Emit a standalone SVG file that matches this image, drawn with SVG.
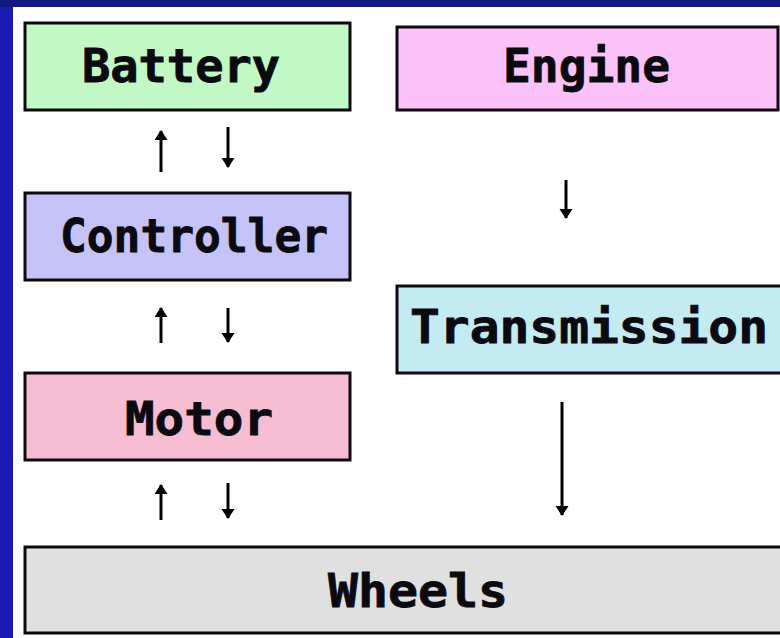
<svg xmlns="http://www.w3.org/2000/svg" width="780" height="638" viewBox="0 0 780 638">
<style>
.box{stroke:#100810;stroke-width:3}
.lbl{font-family:"DejaVu Sans Mono","Liberation Mono",monospace;font-weight:bold;font-size:46px;fill:#0a0a10;stroke:#0a0a10;stroke-width:0.8}
.arr{stroke:#000;stroke-width:3;fill:none}
</style>
<defs>
<marker id="ah" markerUnits="userSpaceOnUse" markerWidth="14" markerHeight="14" refX="9" refY="6.5" orient="auto">
<path d="M0,0 L10,6.5 L0,13 Z" fill="#000"/>
</marker>
</defs>
<rect x="0" y="0" width="780" height="638" fill="#ffffff"/>
<rect x="0" y="0" width="13" height="638" fill="#1a1ab4"/>
<rect x="0" y="0" width="780" height="7" fill="#121a80"/>
<g id="battery">
<rect class="box" x="25" y="23" width="325" height="87" fill="#c2f8c4"/>
<text class="lbl" x="82" y="82" textLength="198" lengthAdjust="spacingAndGlyphs">Battery</text>
</g>
<g id="controller">
<rect class="box" x="25" y="193" width="325" height="87" fill="#c4c2f6"/>
<text class="lbl" x="60" y="252" textLength="268" lengthAdjust="spacingAndGlyphs">Controller</text>
</g>
<g id="motor">
<rect class="box" x="25" y="373" width="325" height="87" fill="#f6bcd2"/>
<text class="lbl" x="125" y="435" textLength="148" lengthAdjust="spacingAndGlyphs">Motor</text>
</g>
<g id="engine">
<rect class="box" x="397" y="27" width="381" height="83" fill="#fbc2f8"/>
<text class="lbl" x="503" y="82" textLength="167" lengthAdjust="spacingAndGlyphs">Engine</text>
</g>
<g id="transmission">
<rect class="box" x="397" y="286" width="386" height="87" fill="#c4eaf2"/>
<text class="lbl" x="410" y="343" textLength="358" lengthAdjust="spacingAndGlyphs">Transmission</text>
</g>
<g id="wheels">
<rect class="box" x="25" y="547" width="760" height="86" fill="#e0e0e0"/>
<text class="lbl" x="328" y="607" textLength="180" lengthAdjust="spacingAndGlyphs">Wheels</text>
</g>
<g id="connectors">
<line class="arr" x1="161" y1="172" x2="161" y2="131" marker-end="url(#ah)"/>
<line class="arr" x1="228" y1="127" x2="228" y2="167" marker-end="url(#ah)"/>
<line class="arr" x1="161" y1="343" x2="161" y2="308" marker-end="url(#ah)"/>
<line class="arr" x1="228" y1="308" x2="228" y2="342" marker-end="url(#ah)"/>
<line class="arr" x1="161" y1="520" x2="161" y2="485" marker-end="url(#ah)"/>
<line class="arr" x1="228" y1="483" x2="228" y2="518" marker-end="url(#ah)"/>
<line class="arr" x1="566" y1="180" x2="566" y2="218" marker-end="url(#ah)"/>
<line class="arr" x1="562" y1="402" x2="562" y2="515" marker-end="url(#ah)"/>
</g>
</svg>
